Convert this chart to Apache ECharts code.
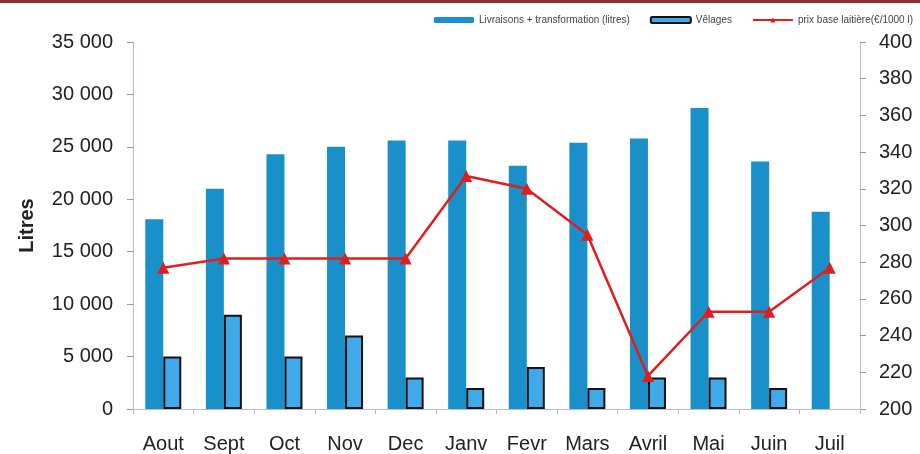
<!DOCTYPE html>
<html>
<head>
<meta charset="utf-8">
<script src="https://cdn.jsdelivr.net/npm/echarts@6/dist/echarts.min.js"></script>
<style>
  html, body { margin: 0; padding: 0; background: #fff; }
  #chart { width: 920px; height: 454px; box-sizing: border-box; border-top: 3px solid #8e2b2b; }
</style>
</head>
<body>
<div id="chart"></div>
<script>
// months
const categories = ['Aout', 'Sept', 'Oct', 'Nov', 'Dec', 'Janv', 'Fevr', 'Mars', 'Avril', 'Mai', 'Juin', 'Juil']
// litres delivered + transformed
const livraisons = [18100, 21000, 24300, 25000, 25600, 25600, 23200, 25400, 25800, 28700, 23600, 18800]
// calvings (same left axis), no bar drawn for Juil
const velages = [5000, 9000, 5000, 7000, 3000, 2000, 4000, 2000, 3000, 3000, 2000, null]
// milk base price, €/1000 l (right axis)
const prix = [277, 282, 282, 282, 282, 327, 320, 295, 218, 253, 253, 277]
const leftTicks = { min: 0, max: 35000, interval: 5000 }
const rightTicks = { min: 200, max: 400, interval: 20 }

const chart = echarts.init(document.getElementById('chart'))

const axisColor = '#b4bde0'
const labelStyle = { color: '#222', fontSize: 20, fontFamily: 'Liberation Sans, Arial' }

chart.setOption({
  animation: false,
  legend: {
    top: 7,
    right: 2,
    itemGap: 20,
    itemWidth: 40,
    itemHeight: 6,
    textStyle: { fontSize: 10, color: '#444', fontFamily: 'Liberation Sans, Arial' },
    data: [
      { name: 'Livraisons + transformation (litres)' },
      { name: 'Vêlages' },
      { name: 'prix base laitière(€/1000 l)' }
    ]
  },
  grid: {
    left: 133,
    right: 60,
    top: 39,
    bottom: 43
  },
  xAxis: {
    type: 'category',
    data: categories,
    axisLine: { lineStyle: { color: axisColor } },
    axisTick: { show: true, length: 5, lineStyle: { color: axisColor } },
    axisLabel: Object.assign({ margin: 25, interval: 0 }, labelStyle)
  },
  yAxis: [{
    type: 'value',
    min: leftTicks.min,
    max: leftTicks.max,
    interval: leftTicks.interval,
    name: 'Litres',
    nameLocation: 'middle',
    nameGap: 96,
    nameRotate: 90,
    nameTextStyle: { fontSize: 20, fontWeight: 'bold', color: '#222', fontFamily: 'Liberation Sans, Arial' },
    axisLine: { show: true, lineStyle: { color: axisColor } },
    axisTick: { show: true, length: 6, lineStyle: { color: '#999' } },
    splitLine: { show: false },
    axisLabel: Object.assign({
      margin: 20,
      formatter: (v) => String(v).replace(/\B(?=(\d{3})+(?!\d))/g, ' ')
    }, labelStyle)
  }, {
    type: 'value',
    min: rightTicks.min,
    max: rightTicks.max,
    interval: rightTicks.interval,
    position: 'right',
    axisLine: { show: true, lineStyle: { color: axisColor } },
    axisTick: { show: true, length: 6, lineStyle: { color: '#999' } },
    splitLine: { show: false },
    axisLabel: Object.assign({ margin: 19 }, labelStyle)
  }],
  series: [{
    name: 'Livraisons + transformation (litres)',
    type: 'bar',
    barWidth: 18,
    barGap: '0%',
    itemStyle: { color: '#1a90cb' },
    data: livraisons
  }, {
    name: 'Vêlages',
    type: 'bar',
    barWidth: 18,
    itemStyle: { color: '#3fa9ea', borderColor: '#111', borderWidth: 2 },
    data: velages
  }, {
    name: 'prix base laitière(€/1000 l)',
    type: 'line',
    yAxisIndex: 1,
    symbol: 'triangle',
    symbolSize: 12,
    z: 5,
    lineStyle: { color: '#e01e1e', width: 2.5 },
    itemStyle: { color: '#e01e1e' },
    data: prix
  }]
})
</script>
</body>
</html>
